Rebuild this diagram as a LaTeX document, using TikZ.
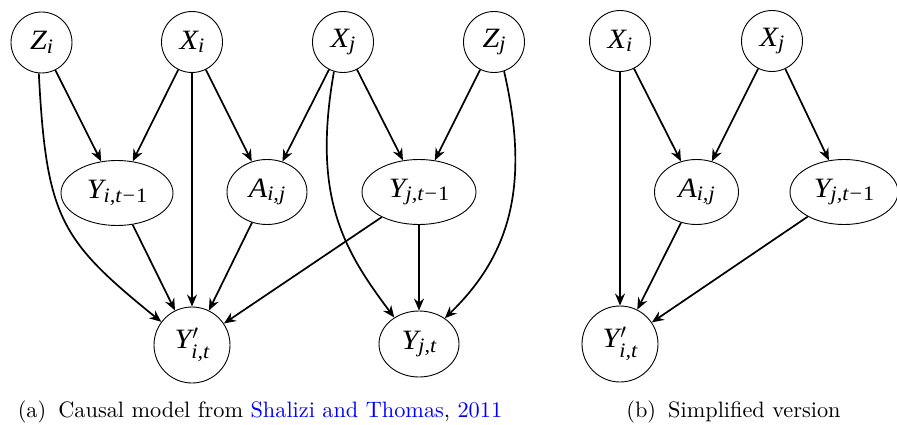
\documentclass[tikz,border=0pt]{standalone}
\usepackage{fontspec}
\newfontfamily\nf{Liberation Serif}[FakeStretch=1.08]
\usetikzlibrary{arrows.meta,shapes.geometric}
\newcommand\lab[2]{{\nf\itshape #1}\raisebox{-3.5pt}{\fontsize{20.5}{24}\selectfont\nf\itshape #2}}
\newcommand\labp[2]{{\nf\itshape #1}\rlap{\kern1pt$^{\prime}$}\raisebox{-10pt}{\fontsize{20.5}{24}\selectfont\nf\itshape #2}}
\newcommand\mn{\kern1pt{\upshape −}\kern1pt{\upshape 1}}
\definecolor{linkblue}{rgb}{0,0,1}
\begin{document}
\begin{tikzpicture}[x=1pt,y=1pt,
  nbase/.style={draw, line width=0.9pt, inner sep=0pt, font=\fontsize{28}{32}\selectfont},
  circ/.style={nbase, circle, minimum size=61pt},
  bigcirc/.style={nbase, circle, minimum size=76pt},
  ell/.style={nbase, ellipse, minimum width=#1, minimum height=65pt},
  arr/.style={line width=1.7pt, -{Stealth[length=12pt,width=10pt,inset=4pt]}},
  captxt/.style={scale=2.23, inner sep=0pt, anchor=base}
]
\useasboundingbox (0,0) rectangle (897,424);
% left panel
\node[circ] (Zi) at (41.5,381.5) {\lab{Z}{i}};
\node[circ] (Xi) at (192,382) {\lab{X}{i}};
\node[circ] (Xj) at (343,382) {\lab{X}{j}};
\node[circ] (Zj) at (494,382) {\lab{Z}{j}};
\node[ell=112pt] (Yi1) at (117,231) {\lab{Y}{i,t\mn}};
\node[ell=80pt] (Aij) at (267,232) {\lab{A}{i,j}};
\node[ell=114pt] (Yj1) at (419,232) {\lab{Y}{j,t\mn}};
\node[bigcirc] (Ypi) at (192,79) {\labp{Y}{i,t}};
\node[ell=80pt, minimum height=66pt] (Yjt) at (419,80) {\lab{Y}{j,t}};
% right panel
\node[circ] (Xi2) at (620,383) {\lab{X}{i}};
\node[circ] (Xj2) at (772,383) {\lab{X}{j}};
\node[ell=84pt] (Aij2) at (696.5,232) {\lab{A}{i,j}};
\node[ell=108pt] (Yj12) at (844,232) {\lab{Y}{j,t\mn}};
\node[bigcirc] (Ypi2) at (620,80) {\labp{Y}{i,t}};
% left edges
\draw[arr] (Zi) -- (Yi1);
\draw[arr] (Xi) -- (Yi1);
\draw[arr] (Xi) -- (Aij);
\draw[arr] (Xj) -- (Aij);
\draw[arr] (Xj) -- (Yj1);
\draw[arr] (Zj) -- (Yj1);
\draw[arr] (Xi) -- (Ypi);
\draw[arr] (Yi1) -- (Ypi);
\draw[arr] (Aij) -- (Ypi);
\draw[arr] (Yj1) -- (Ypi);
\draw[arr] (Yj1) -- (Yjt);
\draw[arr] (Zi.-95) .. controls +(-87:145) and +(141:130) .. (Ypi.143);
\draw[arr] (Xj.-107) .. controls +(-100:126) and +(127:86) .. (Yjt.133);
\draw[arr] (Zj.-71) .. controls +(-77:118) and +(44:90) .. (Yjt.45);
% right edges
\draw[arr] (Xi2) -- (Aij2);
\draw[arr] (Xj2) -- (Aij2);
\draw[arr] (Xj2) -- (Yj12);
\draw[arr] (Xi2) -- (Ypi2);
\draw[arr] (Aij2) -- (Ypi2);
\draw[arr] (Yj12) -- (Ypi2);
% captions
\node[captxt] (capa) at (260,7) {\fontsize{10}{12}\selectfont (a)\hskip5.4pt Causal model from \textcolor{linkblue}{Shalizi and Thomas}, \textcolor{linkblue}{2011}};
\node[captxt] (capb) at (733.5,7) {\fontsize{10}{12}\selectfont (b)\hskip5.4pt Simplified version};
\end{tikzpicture}
\end{document}
